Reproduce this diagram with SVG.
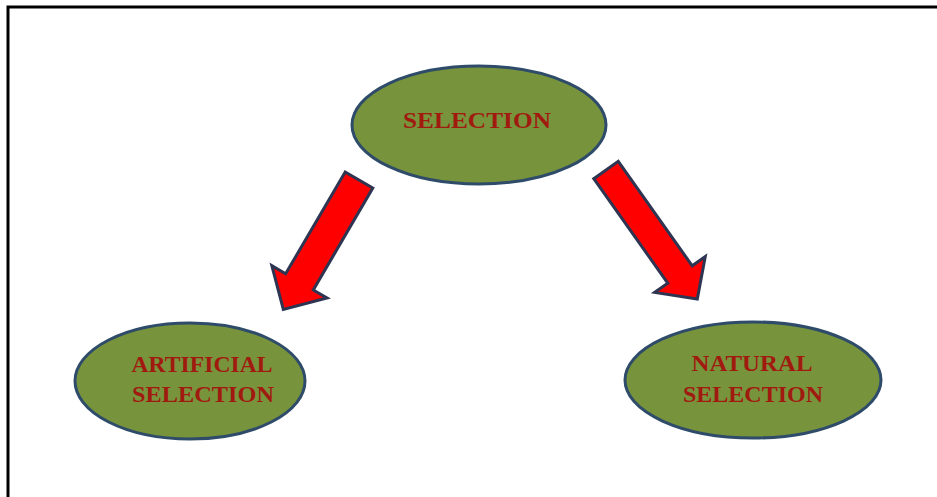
<svg xmlns="http://www.w3.org/2000/svg" width="937" height="497" viewBox="0 0 937 497">
<style>
.node{fill:#77933c;stroke:#2f4b6a;stroke-width:3}
.lbl{font-family:"Liberation Serif","Times New Roman",serif;font-weight:bold;font-size:23px;fill:#a01a10;text-anchor:middle}
.arr{fill:#ff0000;stroke:#2e3552;stroke-width:3;stroke-linejoin:miter}
</style>
<rect width="937" height="497" fill="#ffffff"/>
<path d="M8,497 L8,7 L937,7" fill="none" stroke="#000" stroke-width="3"/>
<g id="connectors">
<path class="arr" transform="translate(359,180) rotate(30.3)" d="M-16,0 L16,0 L16,118 L32,118 L0,150 L-32,118 L-16,118 Z"/>
<path class="arr" transform="translate(606,170) rotate(-35.3)" d="M-15,0 L15,0 L15,128 L31,128 L0,158 L-31,128 L-15,128 Z"/>
</g>
<g id="selection">
<ellipse class="node" cx="479" cy="125" rx="127" ry="59"/>
<text class="lbl" x="477" y="128" textLength="148" lengthAdjust="spacingAndGlyphs">SELECTION</text>
</g>
<g id="artificial">
<ellipse class="node" cx="190" cy="381" rx="115" ry="58"/>
<text class="lbl" x="202" y="372" textLength="141" lengthAdjust="spacingAndGlyphs">ARTIFICIAL</text>
<text class="lbl" x="203" y="402" textLength="142" lengthAdjust="spacingAndGlyphs">SELECTION</text>
</g>
<g id="natural">
<ellipse class="node" cx="753" cy="380" rx="128" ry="58"/>
<text class="lbl" x="752" y="371" textLength="121" lengthAdjust="spacingAndGlyphs">NATURAL</text>
<text class="lbl" x="753" y="402" textLength="140" lengthAdjust="spacingAndGlyphs">SELECTION</text>
</g>
</svg>
